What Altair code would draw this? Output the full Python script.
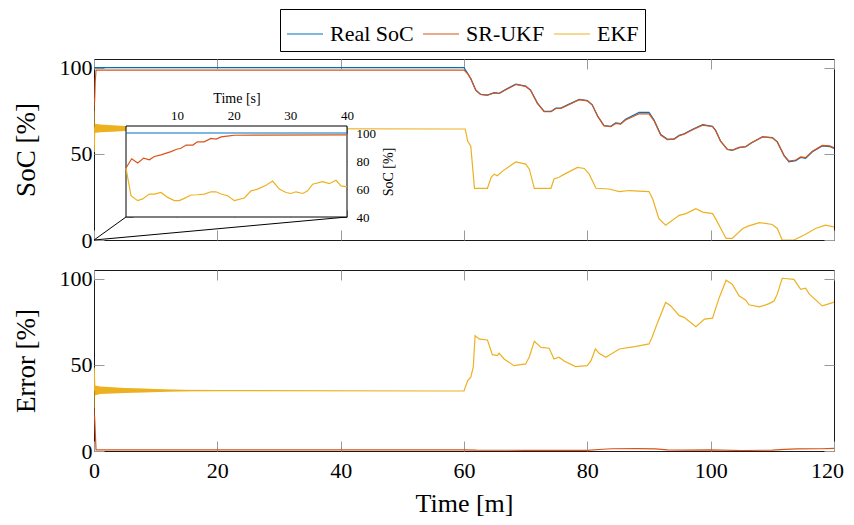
import altair as alt
import pandas as pd

SERIES = ["Real SoC", "SR-UKF", "EKF"]
COLORS = ["#0072BD", "#D95319", "#EDB120"]

# ---------------- top panel: SoC [%] vs time [min] ----------------
real_t = [0, 60.0, 60.56, 61.1, 61.9, 62.7, 63.8, 64.9, 65.7, 66.8, 68.4, 70.0, 70.8, 71.9,
          73.0, 74.1, 74.9, 75.7, 76.8, 78.7, 80.0, 80.8, 81.7, 82.7, 83.8, 84.6, 85.4, 86.2,
          88.4, 90.0, 90.8, 91.9, 93.0, 94.1, 94.9, 95.7, 97.0, 98.7, 100.3, 100.8, 101.6,
          102.7, 103.5, 104.6, 105.7, 106.5, 108.4, 110.0, 110.8, 111.9, 112.7, 113.8, 114.6,
          115.4, 116.5, 118.1, 119.3, 120.0]
real_v = [100, 100, 96.9, 93.7, 87.0, 84.5, 84.1, 85.5, 85.1, 87.4, 90.4, 89.3, 87.0, 79.4,
          74.6, 74.6, 76.5, 76.5, 78.4, 81.6, 80.9, 78.4, 71.7, 66.4, 66.0, 67.9, 67.5, 70.1,
          74.0, 74.0, 69.8, 61.2, 58.4, 58.7, 60.7, 61.6, 64.1, 67.0, 66.0, 63.7, 57.4,
          52.6, 52.0, 53.6, 54.1, 56.1, 59.9, 59.4, 56.9, 48.9, 45.4, 46.0, 47.9,
          47.4, 51.2, 54.6, 54.2, 53.1]

ukf_t = [0, 0.05, 0.1, 0.2, 0.33, 60.0, 60.56, 61.1, 61.9, 62.7, 63.8, 64.9, 65.7, 66.8, 68.4,
         70.0, 70.8, 71.9, 73.0, 74.1, 74.9, 75.7, 76.8, 78.7, 80.0, 80.8, 81.7, 82.7, 83.8,
         84.6, 85.4, 86.2, 88.4, 90.0, 90.8, 91.9, 93.0, 94.1, 94.9, 95.7, 97.0, 98.7, 100.3,
         100.8, 101.6, 102.7, 103.5, 104.6, 105.7, 106.5, 108.4, 110.0, 110.8, 111.9, 112.7,
         113.8, 114.6, 115.4, 116.5, 118.1, 119.3, 120.0]
ukf_v = [75, 82, 80, 92, 98.6, 98.6, 96.6, 93.5, 86.9, 84.4, 84.0, 85.3, 85.0, 87.2, 90.2,
         89.1, 86.8, 79.3, 74.5, 74.4, 76.3, 76.4, 78.2, 81.4, 80.7, 78.3, 71.6, 66.2, 65.7,
         67.6, 67.2, 69.6, 73.2, 73.2, 69.3, 60.9, 58.2, 58.5, 60.5, 61.4, 63.8, 66.6, 65.7,
         63.5, 57.3, 52.6, 52.1, 53.7, 54.2, 56.1, 59.8, 59.3, 56.9, 49.1, 45.8, 46.4, 48.2,
         47.8, 51.5, 54.9, 54.6, 53.6]

ekf_t = [0, 0.04, 0.1, 0.2, 20, 57.6, 60.2, 60.6, 61.1, 61.7, 63.8, 64.4, 64.9, 65.4, 66.3,
         68.4, 70.0, 70.6, 71.4, 74.1, 74.6, 75.4, 76.3, 78.4, 79.5, 80.3, 81.4, 83.5, 85.2,
         86.8, 90.0, 90.6, 91.6, 92.7, 94.9, 96.0, 97.6, 98.7, 100.3, 100.8, 102.5, 103.5,
         105.2, 106.2, 107.9, 110.0, 110.8, 111.6, 113.5, 115.4, 117.0, 118.6, 120]
ekf_v = [75, 51, 62, 65, 64.6, 64.4, 64.4, 57.3, 54.4, 30.0, 30.0, 36.4, 38.2, 37.3, 40.1,
         45.3, 44.0, 41.1, 30.0, 30.0, 35.4, 36.4, 38.2, 42.1, 41.5, 38.2, 30.0, 29.6, 28.1,
         28.7, 28.1, 23.8, 12.4, 8.6, 14.3, 15.3, 18.2, 16.2, 15.3, 12.4, 0.9, 0.9,
         6.7, 8.2, 10.1, 9.0, 6.7, 0, 0, 3.3, 6.7, 8.6, 7.6]

# envelope of the fast EKF oscillation during the first minutes
band_t = [0.15, 1, 3, 5, 8, 12, 16, 20]
band_soc_lo = [62.0, 62.5, 62.8, 63.2, 63.6, 64.0, 64.3, 64.5]
band_soc_hi = [67.5, 67.0, 66.6, 66.2, 65.6, 65.1, 64.8, 64.6]
band_err_lo = [32.2, 33.0, 33.3, 33.6, 34.0, 34.3, 34.6, 34.8]
band_err_hi = [38.0, 37.4, 37.0, 36.6, 36.2, 35.7, 35.3, 35.0]

# ---------------- bottom panel: Error [%] ----------------
err_ukf_t = [0, 0.05, 0.1, 0.33, 60, 62, 70, 80, 82.5, 84, 88, 91, 93, 96, 100, 105, 110,
             112, 114, 118, 120]
err_ukf_v = [25, 18, 20, 0.7, 0.7, 0.5, 0.4, 0.4, 1.0, 1.3, 1.4, 1.2, 0.6, 0.5, 0.6, 0.3,
             0.5, 0.9, 1.2, 1.3, 1.5]

err_ekf_t = [0, 0.03, 0.1, 0.15, 20, 57.6, 60.0, 60.6, 61.1, 61.5, 61.8, 62.5, 63.8, 64.6,
             65.4, 65.7, 66.5, 68.1, 70.0, 70.6, 71.4, 72.5, 73.8, 74.6, 75.4, 76.3, 78.1,
             80.0, 80.6, 81.3, 81.9, 83.0, 85.2, 87.9, 90.0, 90.5, 91.4, 92.7, 93.5, 94.9,
             95.7, 97.6, 99.0, 100.3, 100.6, 101.4, 102.5, 103.5, 104.6, 105.7, 106.2, 107.9,
             109.5, 110.3, 110.8, 111.6, 113.5, 114.6, 115.4, 116.0, 118.1, 119.8, 120]
err_ekf_v = [25, 48.5, 40, 35.5, 35.0, 34.8, 34.8, 40.9, 42.8, 48.6, 66.9, 64.9, 64.4, 55.9,
             55.3, 56.7, 53.4, 49.5, 50.5, 54.7, 63.6, 60.1, 59.6, 53.4, 54.4, 52.1, 49.0,
             49.5, 52.4, 59.2, 56.7, 54.4, 59.2, 60.7, 62.1, 66.0, 74.6, 86.2, 84.3, 78.5,
             77.5, 72.1, 76.5, 77.1, 80.4, 89.1, 99.1, 96.8, 90.0, 87.5, 84.8, 83.6,
             85.5, 87.1, 91.0, 100.2, 99.6, 93.8, 94.4, 91.0, 84.2, 86.1, 86.5]

# ---------------- inset: first 40 seconds ----------------
in_real_t = [1, 40]
in_real_v = [100, 100]
in_ukf_t = [1, 2, 3.06, 4.12, 5.12, 6.0, 7.18, 8.94, 9.94, 10.7, 11.6, 12.8, 13.6, 14.8,
            16.0, 16.9, 17.8, 19.2, 20.1, 40]
in_ukf_v = [75.0, 81.6, 78.6, 82.1, 80.9, 83.2, 84.4, 86.7, 88.4, 89.1, 91.4, 91.4, 93.7,
            93.7, 96.1, 95.6, 97.2, 97.9, 98.4, 98.6]
in_ekf_t = [1, 1.88, 3.06, 3.94, 5.12, 6.0, 7.18, 8.35, 9.53, 10.41, 11.29, 12.47, 13.65,
            14.82, 16.0, 16.88, 17.76, 18.94, 20.12, 21.88, 23.06, 24.24, 25.71, 26.88,
            28.06, 29.24, 30.12, 31.0, 32.18, 33.06, 33.94, 35.71, 36.88, 38.06, 38.94,
            39.82, 40]
in_ekf_v = [75.0, 55.2, 51.7, 52.9, 56.4, 56.4, 57.5, 54.0, 51.7, 51.7, 53.3, 55.7, 55.9,
            56.4, 58.0, 58.0, 56.4, 55.2, 51.7, 53.6, 58.7, 59.9, 62.7, 65.7, 59.9, 57.5,
            56.8, 58.0, 56.8, 58.7, 63.4, 65.2, 63.8, 66.2, 62.2, 61.7, 62.0]

X_TICKS = [0, 20, 40, 60, 80, 100, 120]
Y_TICKS = [0, 50, 100]
IN_X_TICKS = [10, 20, 30, 40]
IN_Y_TICKS = [40, 60, 80, 100]


def frame(ts, vs, name):
    return pd.DataFrame({"t": ts, "v": vs, "series": name})


top_df = pd.concat([frame(real_t, real_v, SERIES[0]), frame(ukf_t, ukf_v, SERIES[1]),
                    frame(ekf_t, ekf_v, SERIES[2])])
err_df = pd.concat([frame(err_ukf_t, err_ukf_v, SERIES[1]), frame(err_ekf_t, err_ekf_v, SERIES[2])])
inset_df = pd.concat([frame(in_real_t, in_real_v, SERIES[0]), frame(in_ukf_t, in_ukf_v, SERIES[1]),
                      frame(in_ekf_t, in_ekf_v, SERIES[2])])
band_df = pd.DataFrame({"t": band_t, "slo": band_soc_lo, "shi": band_soc_hi,
                        "elo": band_err_lo, "ehi": band_err_hi})
one = pd.DataFrame({"k": [0]})

# ---------------- layout / style ----------------
FONT = "Liberation Serif"
W, H = 740, 181
TS, TSI = 10, 7
IX0, IX1, IY0, IY1 = 32, 253, 67, 158
TICK = "#9a9a9a"
LW = 1.2

CS = alt.Scale(domain=SERIES, range=COLORS)
LEG = alt.Legend(orient="none", legendX=186, legendY=-50, direction="horizontal", title=None,
                 symbolType="stroke", symbolSize=1296, symbolStrokeWidth=1.2,
                 labelFont=FONT, labelFontSize=22, labelColor="black", labelOffset=6,
                 columnPadding=6, padding=6, strokeColor="black", labelLimit=0)
XS = alt.Scale(domain=[0, 120], nice=False, zero=False)
YS = alt.Scale(domain=[0, 105], nice=False, zero=False)
IXS = alt.Scale(domain=[1, 40], range=[IX0, IX1], nice=False, zero=False)
IYS = alt.Scale(domain=[40, 105], range=[IY1, IY0], nice=False, zero=False)


def ticks_only(orient, values, offset, size):
    return alt.Axis(orient=orient, values=values, offset=offset, tickSize=size, labels=False,
                    domain=False, grid=False, title=None, tickColor=TICK)


def line(df, name, xs, ys, xaxis=None, yaxis=None):
    return alt.Chart(df).transform_filter(alt.datum.series == name).mark_line(
        strokeWidth=LW, clip=True).encode(
        x=alt.X("t:Q", scale=xs, axis=xaxis),
        y=alt.Y("v:Q", scale=ys, axis=yaxis),
        color=alt.Color("series:N", scale=CS, legend=LEG))


def band(lo, hi):
    return alt.Chart(band_df).mark_area(color=COLORS[2], opacity=1, clip=True).encode(
        x=alt.X("t:Q", scale=XS, axis=None),
        y=alt.Y(lo + ":Q", scale=YS, axis=None),
        y2=alt.Y2(hi + ":Q"))


left_soc = alt.Axis(orient="left", values=Y_TICKS, offset=-TS, tickSize=TS, labelPadding=2,
                    domain=False, grid=False, title="SoC [%]", titlePadding=19, tickColor=TICK)
left_err = alt.Axis(orient="left", values=Y_TICKS, offset=-TS, tickSize=TS, labelPadding=2,
                    domain=False, grid=False, title="Error [%]", titlePadding=19, tickColor=TICK)
bottom_time = alt.Axis(orient="bottom", values=X_TICKS, offset=-TS, tickSize=TS, labelPadding=9,
                       domain=False, grid=False, title="Time [m]", titleFontSize=26,
                       titlePadding=9, labelFlush=False, labelOverlap=False, tickColor=TICK,
                       labelOffset={"condition": {"test": "datum.value == 120", "value": -7},
                                    "value": 0})

main_top = alt.layer(
    line(top_df, SERIES[0], XS, YS, ticks_only("bottom", X_TICKS, -TS, TS), left_soc),
    line(top_df, SERIES[1], XS, YS, ticks_only("top", X_TICKS, -TS, TS),
         ticks_only("right", Y_TICKS, -TS, TS)),
    band("slo", "shi"),
    line(top_df, SERIES[2], XS, YS),
)

in_top = alt.Axis(orient="top", values=IN_X_TICKS, offset=-(IY0 + TSI), tickSize=TSI,
                  labelPadding=4, labelFontSize=13, title="Time [s]", titleFontSize=14,
                  titlePadding=4, domain=False, grid=False, labelFlush=False,
                  labelOverlap=False, tickColor=TICK)
in_right = alt.Axis(orient="right", values=IN_Y_TICKS, offset=IX1 - TSI - W, tickSize=TSI,
                    labelPadding=9, labelFontSize=13, title="SoC [%]", titleFontSize=14,
                    titleAngle=270, titlePadding=20, domain=False, grid=False,
                    labelFlush=False, labelOverlap=False, tickColor=TICK)

inset = alt.layer(
    alt.Chart(one).mark_rule(color="black", strokeWidth=1).encode(
        x=alt.value(0), y=alt.value(H), x2=alt.value(IX0), y2=alt.value(IY1)),
    alt.Chart(one).mark_rule(color="black", strokeWidth=1).encode(
        x=alt.value(0), y=alt.value(H), x2=alt.value(IX1), y2=alt.value(IY1)),
    alt.Chart(one).mark_rect(fill="white", stroke="black", strokeWidth=1).encode(
        x=alt.value(IX0), x2=alt.value(IX1), y=alt.value(IY0), y2=alt.value(IY1)),
    line(inset_df, SERIES[0], IXS, IYS, in_top, in_right),
    line(inset_df, SERIES[1], IXS, IYS,
         ticks_only("bottom", IN_X_TICKS, IY1 - TSI - H, TSI),
         ticks_only("left", IN_Y_TICKS, -(IX0 + TSI), TSI)),
    line(inset_df, SERIES[2], IXS, IYS),
)

top = alt.layer(main_top, inset).resolve_scale(x="independent", y="independent").properties(
    width=W, height=H)

bottom = alt.layer(
    alt.Chart(band_df).mark_area(color=COLORS[2], opacity=1, clip=True).encode(
        x=alt.X("t:Q", scale=XS, axis=None),
        y=alt.Y("elo:Q", scale=YS, axis=None),
        y2=alt.Y2("ehi:Q")),
    line(err_df, SERIES[2], XS, YS, ticks_only("top", X_TICKS, -TS, TS),
         ticks_only("right", Y_TICKS, -TS, TS)),
    line(err_df, SERIES[1], XS, YS, bottom_time, left_err),
).properties(width=W, height=H)

chart = alt.vconcat(top, bottom, spacing=15).properties(
    padding={"left": 3, "top": 0, "right": 0, "bottom": 0}, background="white"
).configure_view(stroke="#1a1a1a", strokeWidth=1).configure_axis(
    labelFont=FONT, titleFont=FONT, labelFontSize=22, titleFontSize=27,
    titleFontWeight="normal", labelColor="black", titleColor="black", tickWidth=1
)

chart.save("out.html", embed_options={"renderer": "svg", "actions": False})
